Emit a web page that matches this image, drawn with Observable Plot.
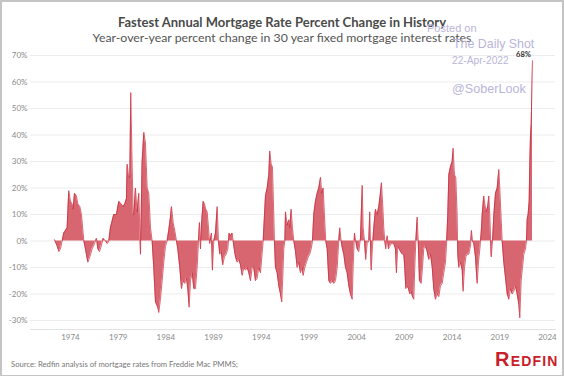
<!DOCTYPE html>
<html>
<head>
<meta charset="utf-8">
<script src="https://cdn.jsdelivr.net/npm/d3@7"></script>
<script src="https://cdn.jsdelivr.net/npm/@observablehq/plot@0.6"></script>
<style>
  html, body { margin: 0; padding: 0; background: #fff; }
  #wrap { position: relative; width: 564px; height: 376px; overflow: hidden; font-family: Lato, "Liberation Sans", sans-serif; }
  #border { position: absolute; left: 0; top: 0; width: 560px; height: 373px; border: 2px solid #c4c4c4; border-bottom-width: 1px; box-sizing: content-box; pointer-events: none; }
  .abs { position: absolute; white-space: nowrap; }
  #title { left: 0; width: 564px; text-align: center; top: 14px; font-size: 13px; font-weight: bold; color: #4a4a4a; }
  #subtitle { left: 0; width: 564px; text-align: center; top: 30px; font-size: 12.3px; color: #555; }
  #chart { position: absolute; left: 0; top: 46px; }
  #source { left: 11px; top: 359px; font-size: 7.7px; color: #777; }
  #logo { left: 495px; top: 348px; font-size: 20px; font-weight: 900; color: #c8202a; font-variant: small-caps; letter-spacing: 1.2px; font-family: "Liberation Sans", sans-serif; }
  .wm { color: #b9b5d9; font-family: "Liberation Sans", sans-serif; }
</style>
</head>
<body>
<div id="wrap">
  <div id="title" class="abs">Fastest Annual Mortgage Rate Percent Change in History</div>
  <div id="subtitle" class="abs">Year-over-year percent change in 30 year fixed mortgage interest rates</div>
  <div id="chart"></div>
  <div id="source" class="abs">Source: Redfin analysis of mortgage rates from Freddie Mac PMMS;</div>
  <div id="logo" class="abs">Redfin</div>
  <div class="abs wm" style="left:427px;top:22px;font-size:11px;">Posted on</div>
  <div class="abs wm" style="left:453px;top:37px;font-size:12.4px;">The Daily Shot</div>
  <div class="abs wm" style="left:452px;top:55px;font-size:10.2px;">22-Apr-2022</div>
  <div class="abs wm" style="left:452px;top:82px;font-size:12.6px;">@SoberLook</div>
  <div id="border"></div>
</div>
<script>
// Week (decimal year) of each observation
const dates = [
  1972.32,1972.61,1972.78,1972.95,1973.13,1973.30,1973.48,1973.65,1973.82,1974.00,1974.17,1974.28,1974.42,1974.63,1974.77,1974.98,1975.15,1975.40,1975.57,1975.82,
  1976.03,1976.27,1976.52,1976.73,1976.87,1977.04,1977.22,1977.43,1977.67,1977.85,1978.02,1978.19,1978.54,1978.82,1979.07,1979.31,1979.52,1979.70,1979.87,1979.94,
  1980.08,1980.22,1980.32,1980.43,1980.57,1980.64,1980.81,1980.99,1981.16,1981.34,1981.51,1981.69,1981.86,1982.04,1982.21,1982.39,1982.56,1982.73,1982.91,1983.15,
  1983.26,1983.43,1983.61,1983.78,1983.96,1984.13,1984.30,1984.48,1984.59,1984.76,1984.93,1985.11,1985.25,1985.46,1985.64,1985.81,1985.98,1986.16,1986.30,1986.44,
  1986.58,1986.76,1986.93,1987.10,1987.28,1987.42,1987.52,1987.63,1987.73,1987.91,1988.05,1988.18,1988.33,1988.47,1988.60,1988.78,1988.88,1989.02,1989.20,1989.38,
  1989.51,1989.65,1989.80,1989.96,1990.14,1990.32,1990.49,1990.63,1990.77,1990.95,1991.12,1991.30,1991.47,1991.64,1991.82,1992.00,1992.17,1992.34,1992.52,1992.69,
  1992.87,1993.05,1993.21,1993.39,1993.57,1993.74,1993.92,1994.20,1994.34,1994.44,1994.62,1994.79,1994.89,1995.04,1995.17,1995.31,1995.38,1995.49,1995.66,1995.84,
  1996.01,1996.15,1996.29,1996.36,1996.47,1996.54,1996.71,1996.89,1996.99,1997.13,1997.27,1997.41,1997.59,1997.76,1997.93,1998.11,1998.29,1998.39,1998.56,1998.74,
  1998.92,1999.08,1999.23,1999.37,1999.50,1999.68,1999.86,2000.03,2000.21,2000.34,2000.49,2000.62,2000.76,2000.91,2001.08,2001.25,2001.43,2001.60,2001.78,2001.96,
  2002.12,2002.23,2002.37,2002.51,2002.65,2002.83,2003.00,2003.18,2003.35,2003.53,2003.63,2003.77,2003.90,2004.05,2004.22,2004.40,2004.58,2004.68,2004.82,2004.95,
  2005.10,2005.27,2005.37,2005.52,2005.66,2005.79,2005.97,2006.15,2006.32,2006.49,2006.60,2006.74,2006.84,2006.95,2007.05,2007.20,2007.33,2007.47,2007.62,2007.75,
  2007.89,2008.07,2008.17,2008.31,2008.45,2008.59,2008.77,2008.94,2009.04,2009.15,2009.29,2009.43,2009.57,2009.71,2009.85,2009.99,2010.09,2010.20,2010.34,2010.45,
  2010.58,2010.76,2010.90,2011.03,2011.21,2011.39,2011.56,2011.74,2011.92,2012.08,2012.26,2012.44,2012.61,2012.78,2012.96,2013.13,2013.31,2013.41,2013.55,2013.66,
  2013.83,2014.01,2014.11,2014.25,2014.39,2014.53,2014.60,2014.70,2014.88,2015.06,2015.16,2015.30,2015.44,2015.58,2015.75,2015.93,2016.03,2016.14,2016.28,2016.45,
  2016.63,2016.77,2016.91,2017.05,2017.16,2017.32,2017.43,2017.57,2017.74,2017.85,2017.95,2018.10,2018.24,2018.38,2018.55,2018.73,2018.90,2019.00,2019.15,2019.25,
  2019.42,2019.60,2019.78,2019.95,2020.12,2020.30,2020.47,2020.65,2020.82,2021.00,2021.10,2021.24,2021.38,2021.52,2021.69,2021.80,2021.87,2021.97,2022.08,2022.15,
  2022.22,2022.29,2022.36,2022.43
];
// Year-over-year percent change in the 30-year fixed rate
const pctChange = [
  0.5,-2,-4,-3,0,3,4,5,19,15,14,12,18,17,14,13,10,0,-3,-8,
  -6,-3,-1,1,-3,-4,-2,1,0,-1,0,5,10,10,15,14,13,14,16,29,
  25,24,56,35,10,10,20,11,18,-5,30,41,37,20,18,5,0,-10,-23,-25,
  -27,-22,-15,-8,-2,0,4,9,13,7,4,0,-3,-10,-18,-15,-16,-14,-18,-25,
  -15,-12,-18,-18,-10,0,7,-3,6,15,14,12,11,5,-1,3,-11,0,3,13,
  0,-5,-4,-9,-6,-5,-3,3,2,3,-2,-6,-8,-7,-9,-13,-10,-11,-10,-12,
  -15,-10,-10,-15,-14,-10,-12,0,10,17,20,25,34,29,28,10,0,-10,-12,-17,
  -20,-23,-10,-3,0,11,6,8,5,12,5,0,-4,-10,-8,-12,-10,-13,-10,-8,
  -6,-5,-3,0,10,15,18,20,24,18,20,10,0,-3,-15,-16,-15,-16,-15,-10,
  0,5,0,-3,-5,-10,-12,-17,-20,-22,-10,3,0,-3,-4,1,21,5,0,-7,
  -1,0,11,-11,-2,5,12,10,13,18,22,13,5,0,-3,2,-3,-2,-1,-1,
  -1,-3,-12,-2,-3,-4,-5,-5,-10,-18,-17,-18,-20,-19,-21,-22,-10,0,9,0,
  -15,-16,-10,-3,-2,-4,-7,-5,-10,-18,-22,-20,-21,-17,-16,-12,-8,-2,10,25,
  28,30,35,25,24,10,-5,-10,-8,-11,-19,-10,-6,-5,-5,-2,4,0,-1,-6,
  -16,-8,-3,3,10,17,14,11,13,17,10,-6,0,10,18,20,27,20,8,0,
  -8,-14,-20,-22,-18,-20,-19,-17,-20,-24,-29,-15,-10,-5,-3,0,8,10,15,30,
  40,44,55,68
];
const yearTicks = [1974,1979,1984,1989,1994,1999,2004,2009,2014,2019,2024];
const pctTicks = [-30,-20,-10,0,10,20,30,40,50,60,70];
const peakLabel = "68%";

const data = dates.map((t, i) => ({t, v: pctChange[i]}));
const last = data[data.length - 1];

const chart = Plot.plot({
  width: 564,
  height: 300,
  marginLeft: 30,
  marginRight: 9,
  marginTop: 9,
  marginBottom: 17,
  style: {fontFamily: "Lato, 'Liberation Sans', sans-serif", background: "transparent"},
  x: {type: "linear", domain: [1969.81, 2024.84], label: null},
  y: {domain: [-33.4, 70], label: null},
  marks: [
    Plot.ruleY(pctTicks, {stroke: "#ececec", strokeWidth: 1}),
    Plot.frame({anchor: "bottom", stroke: "#e2e2e2"}),
    Plot.areaY(data, {x: "t", y: "v", fill: "#d86671", curve: "linear"}),
    Plot.lineY(data, {x: "t", y: "v", stroke: "#c8283a", strokeWidth: 0.7}),
    Plot.text([last], {x: "t", y: "v", text: () => peakLabel, dy: -6, dx: -9, fontSize: 7.5, fontWeight: "bold", fill: "#333"}),
    Plot.axisX({ticks: yearTicks, tickFormat: d => String(d), tickSize: 0, tickPadding: 5, fontSize: 8, fill: "#8a8a8a", label: null}),
    Plot.axisY({ticks: pctTicks, tickFormat: d => d + "%", tickSize: 0, tickPadding: 3, fontSize: 8, fill: "#8a8a8a", label: null})
  ]
});
document.getElementById("chart").appendChild(chart);
</script>
</body>
</html>
